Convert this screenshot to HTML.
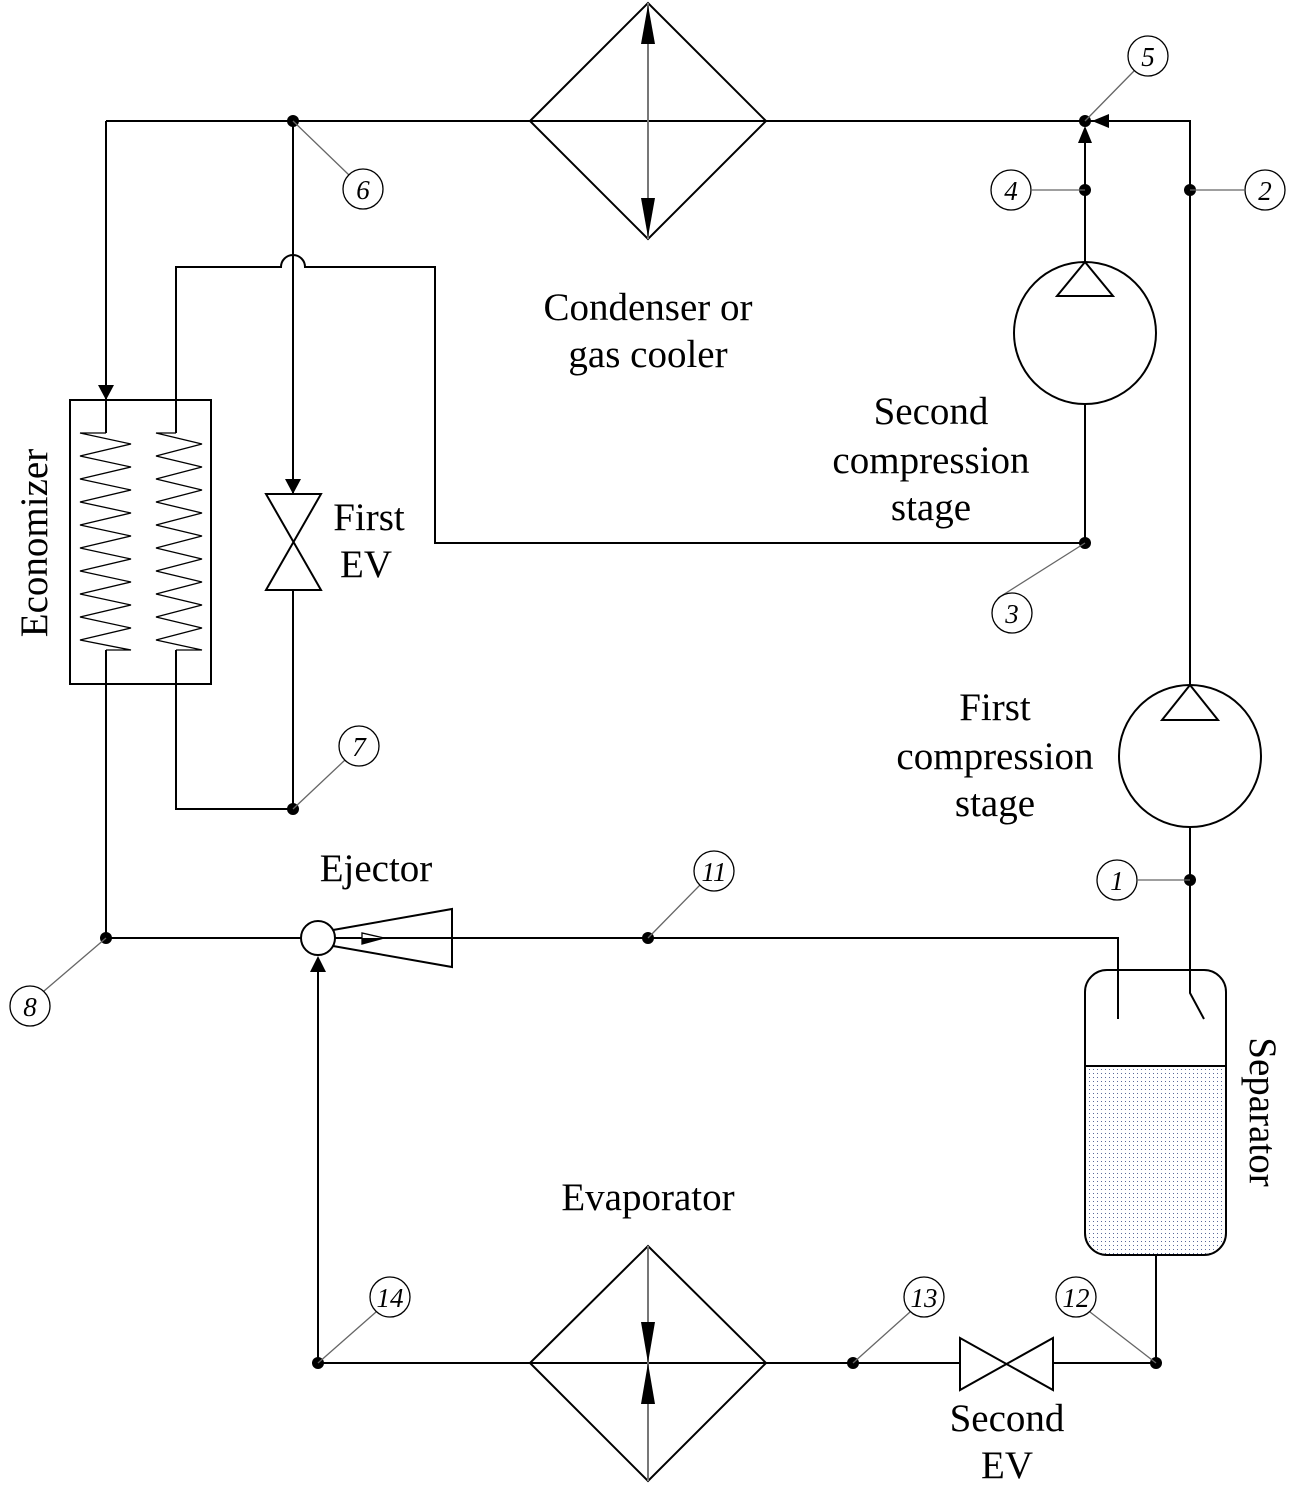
<!DOCTYPE html>
<html><head><meta charset="utf-8"><style>html,body{margin:0;padding:0;background:#fff}svg{display:block}text{font-family:"Liberation Serif",serif;font-size:39px;fill:#000}.n{font-style:italic;font-size:27px}</style></head><body>
<svg width="1296" height="1509" viewBox="0 0 1296 1509" xmlns="http://www.w3.org/2000/svg">
<defs>
<pattern id="dots" width="4" height="4" patternUnits="userSpaceOnUse"><rect x="1" y="1" width="1" height="1" fill="#5a6a9a"/></pattern>
</defs>
<g fill="none" stroke="#000" stroke-width="2">
<path d="M106 121H530M766 121H1085M1085 121H1190V685"/>
<path d="M106 121V400"/>
<path d="M293 121V494M293 590V809H176V650"/>
<path d="M176 433V267H281A12 12 0 0 1 305 267H435V543H1085"/>
<rect x="70" y="400" width="141" height="284"/>
<path d="M106 400V433M106 650V938M176 400V433"/>
<path d="M106 433H80 L131 444 L80 456 L131 467 L80 479 L131 490 L80 502 L131 513 L80 525 L131 536 L80 548 L131 559 L80 571 L131 582 L80 594 L131 605 L80 617 L131 628 L80 640 L131 650 H106" stroke-width="1.3"/>
<path d="M176 433H156 L202 444 L156 456 L202 467 L156 479 L202 490 L156 502 L202 513 L156 525 L202 536 L156 548 L202 559 L156 571 L202 582 L156 594 L202 605 L156 617 L202 628 L156 640 L202 650 H176" stroke-width="1.3"/>
<path d="M266 494H321L266 590H321Z"/>
<path d="M530 121L648 3L766 121L648 239Z M530 121H766"/>
<line x1="648" y1="3" x2="648" y2="239" stroke="#777"/>
<circle cx="1085" cy="333" r="71"/>
<path d="M1085 262L1057 296H1113Z"/>
<path d="M1085 404V543M1085 262V130"/>
<circle cx="1190" cy="756" r="71"/>
<path d="M1190 685L1162 720H1218Z"/>
<path d="M1190 827V993L1204 1019"/>
<path d="M106 938H301M335 938H1118V1019"/>
<circle cx="318" cy="938" r="17"/>
<path d="M333 930L452 909V967L333 946"/>
<path d="M318 1363V958"/>
<path d="M318 1363H530M766 1363H960M1053 1363H1156V1255"/>
<path d="M530 1363L648 1246L766 1363L648 1481Z M530 1363H766"/>
<line x1="648" y1="1246" x2="648" y2="1481" stroke="#777"/>
<path d="M960 1338L1053 1390V1338L960 1390Z"/>
<path d="M1085 1066H1226V1233A22 22 0 0 1 1204 1255H1107A22 22 0 0 1 1085 1233Z" fill="url(#dots)" stroke="none"/>
<rect x="1085" y="970" width="141" height="285" rx="22"/>
<path d="M1085 1066H1226"/>
</g>
<g fill="#000">
<path d="M106 400L98 385H114Z"/>
<path d="M293 494L285 479H301Z"/>
<path d="M1085 126L1078 143H1092Z"/>
<path d="M1092 121L1109 114V128Z"/>
<path d="M648 5L641 44H655Z"/>
<path d="M648 237L641 198H655Z"/>
<path d="M648 1363L641 1322H655Z"/>
<path d="M648 1363L641 1404H655Z"/>
<path d="M318 956L310 972H326Z"/>
<path d="M362 944V933L384 938Z" fill="#fff" stroke="#000" stroke-width="1.3"/>
<path d="M362 944V938H384Z"/>
<circle cx="293" cy="121" r="6"/><circle cx="1085" cy="121" r="6"/><circle cx="1085" cy="190" r="6"/><circle cx="1190" cy="190" r="6"/>
<circle cx="1085" cy="543" r="6"/><circle cx="293" cy="809" r="6"/><circle cx="1190" cy="880" r="6"/><circle cx="106" cy="938" r="6"/>
<circle cx="648" cy="938" r="6"/><circle cx="318" cy="1363" r="6"/><circle cx="853" cy="1363" r="6"/><circle cx="1156" cy="1363" r="6"/>
</g>
<g stroke="#666" stroke-width="1.3" fill="none">
<path d="M1134 71L1085 121"/><path d="M349 175L293 121"/><path d="M1032 190H1085"/><path d="M1244 190H1190"/>
<path d="M998 598L1085 543"/><path d="M345 760L293 809"/><path d="M1138 880H1190"/><path d="M700 885L648 938"/>
<path d="M44 991L106 938"/><path d="M376 1312L318 1363"/><path d="M910 1312L853 1363"/><path d="M1090 1312L1156 1363"/>
</g>
<g stroke="#000" stroke-width="1.3" fill="#fff">
<circle cx="1148" cy="56" r="20"/><circle cx="363" cy="189" r="20"/><circle cx="1011" cy="190" r="20"/><circle cx="1265" cy="190" r="20"/>
<circle cx="1012" cy="613" r="20"/><circle cx="359" cy="746" r="20"/><circle cx="1117" cy="880" r="20"/><circle cx="714" cy="871" r="20"/>
<circle cx="30" cy="1006" r="20"/><circle cx="390" cy="1297" r="20"/><circle cx="924" cy="1297" r="20"/><circle cx="1076" cy="1297" r="20"/>
</g>
<g text-anchor="middle">
<text class="n" x="1148" y="66">5</text><text class="n" x="363" y="199">6</text><text class="n" x="1011" y="200">4</text><text class="n" x="1265" y="200">2</text>
<text class="n" x="1012" y="623">3</text><text class="n" x="359" y="756">7</text><text class="n" x="1117" y="890">1</text><text class="n" x="714" y="881">11</text>
<text class="n" x="30" y="1016">8</text><text class="n" x="390" y="1307">14</text><text class="n" x="924" y="1307">13</text><text class="n" x="1076" y="1307">12</text>
</g>
<g text-anchor="middle">
<text x="648" y="320">Condenser or</text><text x="648" y="367">gas cooler</text>
<text x="931" y="424">Second</text><text x="931" y="473">compression</text><text x="931" y="520">stage</text>
<text x="995" y="720">First</text><text x="995" y="769">compression</text><text x="995" y="816">stage</text>
<text x="376" y="881">Ejector</text><text x="648" y="1210">Evaporator</text>
<text x="1007" y="1431">Second</text><text x="1007" y="1478">EV</text>
<text x="369" y="530">First</text><text x="366" y="577">EV</text>
<text transform="translate(47,543) rotate(-90)">Economizer</text>
<text transform="translate(1250,1112) rotate(90)">Separator</text>
</g>
</svg>
</body></html>
